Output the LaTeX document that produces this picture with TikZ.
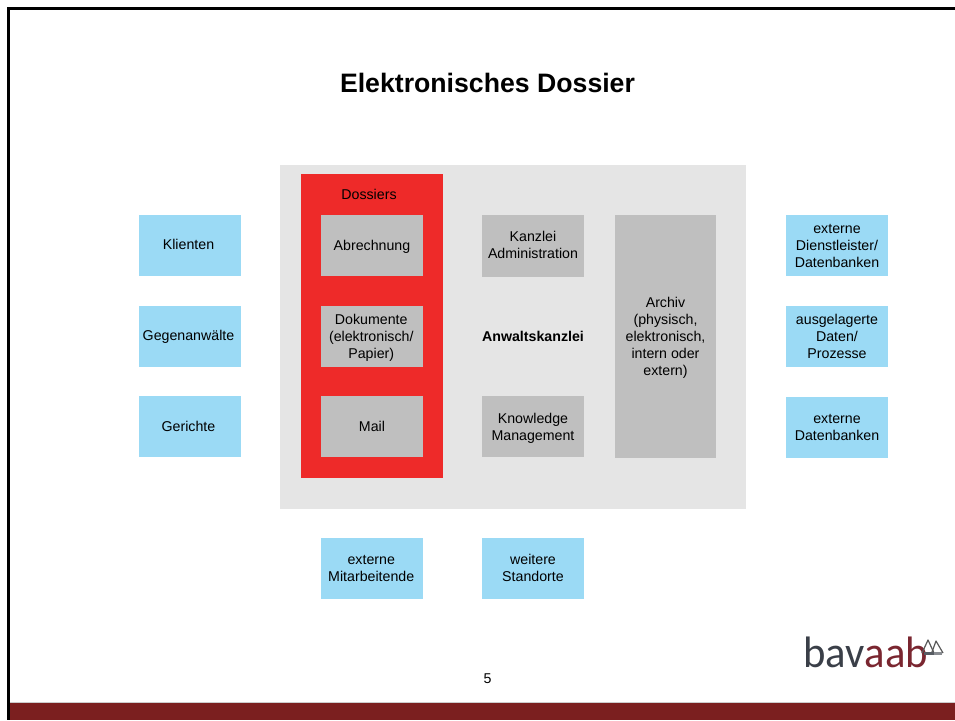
\documentclass[tikz,border=0pt]{standalone}
\usepackage{fontspec}
\setmainfont{Liberation Sans}
\newfontfamily\logofont{Carlito}
\definecolor{skyb}{HTML}{9BDAF5}
\definecolor{midg}{HTML}{BFBFBF}
\definecolor{lightg}{HTML}{E5E5E5}
\definecolor{redb}{HTML}{EE2A29}
\definecolor{barred}{HTML}{7B1F1F}
\definecolor{logodark}{HTML}{3A3F48}
\definecolor{logored}{HTML}{7A2630}
\tikzset{
  box/.style={anchor=north west,inner sep=0pt,outer sep=0pt},
  bluebox/.style={box,fill=skyb,minimum width=76.5pt,minimum height=45.75pt},
  greybox/.style={box,fill=midg,minimum width=76.5pt,minimum height=45.75pt},
  lbl/.style={inner sep=0pt,font=\fontsize{10.65}{12.75}\selectfont,align=center,text=black}
}
\begin{document}
\begin{tikzpicture}[x=0.75pt,y=-0.75pt]
\useasboundingbox (0,0) rectangle (955,720);
\fill[white] (0,0) rectangle (955,720);
% frame
\fill[black] (7,7) rectangle (955,10);
\fill[black] (7,7) rectangle (10,720);
\fill[barred] (10,703) rectangle (955,720);
\fill[black!20] (10,702) rectangle (955,703);
% title
\node[inner sep=0pt,font=\fontsize{20}{24}\selectfont\bfseries] (title) at (487.5,83) {Elektronisches Dossier};
% backgrounds
\node[anchor=north west,inner sep=0pt,fill=lightg,minimum width=349.5pt,minimum height=258pt] (kanzlei) at (280,165) {};
\node[anchor=north west,inner sep=0pt,fill=redb,minimum width=106.5pt,minimum height=228pt] (dossiers) at (301,174) {};
\node[lbl] (dossierslbl) at (369,194) {Dossiers};
% left
\node[bluebox] (klienten) at (139,215) {};
\node[lbl,shift={(-1.5,-1)}] (klientenT) at (klienten) {Klienten};
\node[bluebox] (gegen) at (139,306) {};
\node[lbl,shift={(-1.5,0)}] (gegenT) at (gegen) {Gegenanwälte};
\node[bluebox] (gerichte) at (139,396) {};
\node[lbl,shift={(-1.5,0)}] (gerichteT) at (gerichte) {Gerichte};
% dossiers
\node[greybox] (abr) at (321,215) {};
\node[lbl,shift={(0,1)}] (abrT) at (abr) {Abrechnung};
\node[greybox] (dok) at (321,306) {};
\node[lbl,shift={(-0.75,1.5)}] (dokT) at (dok) {Dokumente\\(elektronisch/\\Papier)};
\node[greybox] (mail) at (321,396) {};
\node[lbl] (mailT) at (mail) {Mail};
% middle
\node[greybox] (admin) at (482,215.5) {};
\node[lbl,shift={(0,-1)}] (adminT) at (admin) {Kanzlei\\Administration};
\node[lbl,font=\fontsize{10.65}{12.75}\selectfont\bfseries] (anw) at (533,336) {Anwaltskanzlei};
\node[greybox] (km) at (482,396) {};
\node[lbl,shift={(0,2)}] (kmT) at (km) {Knowledge\\Management};
\node[greybox,minimum width=75.75pt,minimum height=182.25pt] (archiv) at (615,215) {};
\node[lbl,shift={(0,1)}] (archivT) at (archiv) {Archiv\\(physisch,\\elektronisch,\\intern oder\\extern)};
% right
\node[bluebox] (ext1) at (786,215) {};
\node[lbl,shift={(0,0.6)}] (ext1T) at (ext1) {externe\\Dienstleister/\\Datenbanken};
\node[bluebox] (ausg) at (786,306) {};
\node[lbl] (ausgT) at (ausg) {ausgelagerte\\Daten/\\Prozesse};
\node[bluebox] (ext2) at (786,397) {};
\node[lbl] (ext2T) at (ext2) {externe\\Datenbanken};
% bottom
\node[bluebox] (mit) at (321,538) {};
\node[lbl,shift={(-0.75,0)}] (mitT) at (mit) {externe\\Mitarbeitende};
\node[bluebox] (stand) at (482,538) {};
\node[lbl,shift={(0,-1)}] (standT) at (stand) {weitere\\Standorte};
% page number
\node[lbl] (page) at (487.5,679) {5};
% logo
\node[anchor=base west,inner sep=0pt,xscale=0.97,font=\logofont\fontsize{33}{33}\selectfont,text=logodark] (logoa) at (803,667) {bav\textcolor{logored}{aab}};
\begin{scope}[draw=gray!70!black,line width=0.9pt,line join=round]
\draw (922,653) -- (928,640) -- (934,653);
\draw (932,652) -- (936,641) -- (943,653);
\fill[logodark!85] (924,652) rectangle (934,654.5);
\fill[logodark!60] (934,652) rectangle (942,654.5);
\end{scope}
\end{tikzpicture}
\end{document}
